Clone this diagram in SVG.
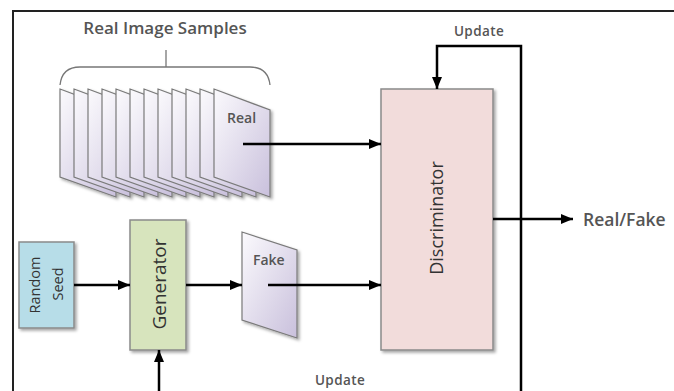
<svg xmlns="http://www.w3.org/2000/svg" width="674" height="391" viewBox="0 0 674 391">
<defs>
<style>
.lbl{font-family:"Open Sans","Noto Sans","Liberation Sans",sans-serif;font-weight:600;fill:#555}
.box{stroke:#8a8a8a;stroke-width:1.5}
.name{font-family:"Open Sans","Noto Sans","Liberation Sans",sans-serif;fill:#333}
.conn{stroke:#000;stroke-width:2.5;fill:none}
.page{fill:url(#pg);stroke:#7a7a7a;stroke-width:1.2}
</style>
<linearGradient id="pg" x1="0" y1="0" x2="1" y2="1">
<stop offset="0" stop-color="#fbfafd"/>
<stop offset="1" stop-color="#c9c0dc"/>
</linearGradient>
<filter id="sh" x="-20%" y="-20%" width="140%" height="140%">
<feDropShadow dx="2" dy="2" stdDeviation="1.5" flood-color="#000" flood-opacity="0.35"/>
</filter>
<marker id="ah" viewBox="0 0 12 10" refX="12" refY="5" markerWidth="12" markerHeight="10" markerUnits="userSpaceOnUse" orient="auto">
<path d="M0,0 L12,5 L0,10 Z" fill="#000"/>
</marker>
</defs>
<rect width="674" height="391" fill="#fff"/>
<path d="M13,391 V11 H674" fill="none" stroke="#222" stroke-width="2"/>

<g id="real-samples">
<text class="lbl" x="165" y="34" font-size="17" text-anchor="middle">Real Image Samples</text>
<path d="M166,50 V67 M60,85 Q62,67 80,67 H250 Q268,67 270,85" fill="none" stroke="#777" stroke-width="1.3"/>
<g filter="url(#sh)">
<polygon class="page" points="60,89 116,110 116,197 60,177"/>
<polygon class="page" points="74,89 130,110 130,197 74,177"/>
<polygon class="page" points="88,89 144,110 144,197 88,177"/>
<polygon class="page" points="102,89 158,110 158,197 102,177"/>
<polygon class="page" points="116,89 172,110 172,197 116,177"/>
<polygon class="page" points="130,89 186,110 186,197 130,177"/>
<polygon class="page" points="144,89 200,110 200,197 144,177"/>
<polygon class="page" points="158,89 214,110 214,197 158,177"/>
<polygon class="page" points="172,89 228,110 228,197 172,177"/>
<polygon class="page" points="186,89 242,110 242,197 186,177"/>
<polygon class="page" points="200,89 256,110 256,197 200,177"/>
<polygon class="page" points="214,89 270,110 270,197 214,177"/>
</g>
<text class="lbl" x="227" y="123" font-size="14">Real</text>
</g>

<g id="random-seed">
<rect class="box" x="19" y="242" width="55" height="86" fill="#b7dde8" filter="url(#sh)"/>
<text class="name" font-size="14.5" text-anchor="middle" transform="translate(40,285) rotate(-90)">Random</text>
<text class="name" font-size="14.5" text-anchor="middle" transform="translate(63,284) rotate(-90)">Seed</text>
</g>

<g id="generator">
<rect class="box" x="130" y="220" width="56" height="130" fill="#d7e4bd" filter="url(#sh)"/>
<text class="name" font-size="19" text-anchor="middle" transform="translate(166,284) rotate(-90)">Generator</text>
</g>

<g id="fake">
<polygon class="page" points="242,232 297,250 297,338 242,320" filter="url(#sh)"/>
<text class="lbl" x="253" y="265" font-size="14">Fake</text>
</g>

<g id="discriminator">
<rect class="box" x="381" y="89" width="112" height="261" fill="#f2dcdb" filter="url(#sh)"/>
<text class="name" font-size="18" text-anchor="middle" transform="translate(443,218) rotate(-90)">Discriminator</text>
</g>

<g id="output">
<text class="lbl" x="583" y="226" font-size="17.5">Real/Fake</text>
</g>

<g id="connectors">
<line class="conn" x1="243" y1="144" x2="381" y2="144" marker-end="url(#ah)"/>
<line class="conn" x1="74" y1="285" x2="130" y2="285" marker-end="url(#ah)"/>
<line class="conn" x1="186" y1="285" x2="242" y2="285" marker-end="url(#ah)"/>
<line class="conn" x1="268" y1="285" x2="381" y2="285" marker-end="url(#ah)"/>
<line class="conn" x1="493" y1="219" x2="573" y2="219" marker-end="url(#ah)"/>
<polyline class="conn" points="521,391 521,46 437,46 437,89" marker-end="url(#ah)"/>
<line class="conn" x1="159" y1="391" x2="159" y2="350" marker-end="url(#ah)"/>
<text class="lbl" x="479" y="36" font-size="13.5" letter-spacing="0.4" text-anchor="middle">Update</text>
<text class="lbl" x="340" y="385" font-size="13.5" letter-spacing="0.4" text-anchor="middle">Update</text>
</g>
</svg>
